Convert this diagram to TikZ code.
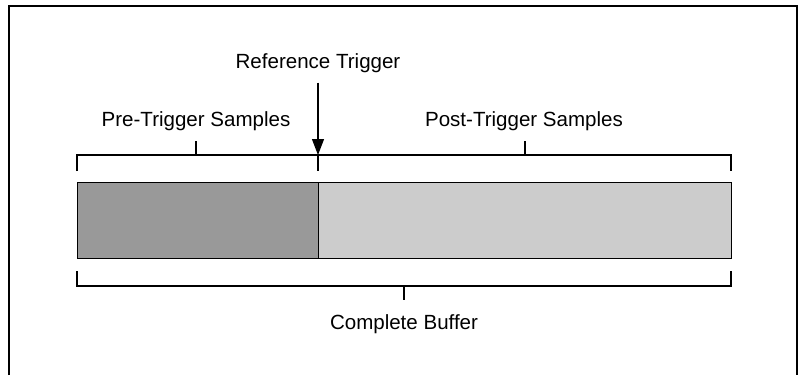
\documentclass[tikz,border=0pt]{standalone}
\usepackage{fontspec}
\setmainfont{Liberation Sans}
\usetikzlibrary{arrows.meta}
\definecolor{predark}{HTML}{999999}
\definecolor{postlight}{HTML}{CCCCCC}
\begin{document}
\begin{tikzpicture}[x=0.025cm,y=-0.025cm,
    lbl/.style={anchor=base,inner sep=0pt,font=\fontsize{14.6}{17}\selectfont},
    brk/.style={line width=0.75pt},
    part/.style={draw,line width=0.8pt,minimum height=76*0.025cm,inner sep=0pt,anchor=north west}]
  \useasboundingbox (0,0) rectangle (800,375);
  % open frame
  \draw[line width=2pt] (9,375) -- (9,6) -- (797,6) -- (797,375);
  % labels
  \draw
    (318,68) node[lbl] (ref){Reference Trigger}
    (196,126) node[lbl] (pre){Pre-Trigger Samples}
    (524,126) node[lbl] (post){Post-Trigger Samples}
    (404,329) node[lbl] (all){Complete Buffer};
  % buffer
  \node[part,fill=predark,minimum width=241*0.025cm] (prebuf) at (77,182) {};
  \node[part,fill=postlight,minimum width=413*0.025cm] (postbuf) at (318,182) {};
  % brackets
  \coordinate (tl) at (77,155);
  \coordinate (tr) at (731,155);
  \coordinate (bl) at (77,286);
  \coordinate (br) at (731,286);
  \coordinate (trig) at (318,155);
  \begin{scope}[brk]
    \draw (77,171) -- (tl) -- (tr) -- (731,171);
    \draw (196,155) -- (196,141);
    \draw (525,155) -- (525,141);
    \draw (77,271) -- (bl) -- (br) -- (731,271);
    \draw (404,286) -- (404,300);
    \draw (trig) -- (318,171);
  \end{scope}
  % trigger arrow
  \draw[line width=0.75pt,shorten <=10*0.025cm,-{Triangle[length=16*0.025cm,width=12*0.025cm]}]
    (ref.south) -- (trig);
\end{tikzpicture}
\end{document}
